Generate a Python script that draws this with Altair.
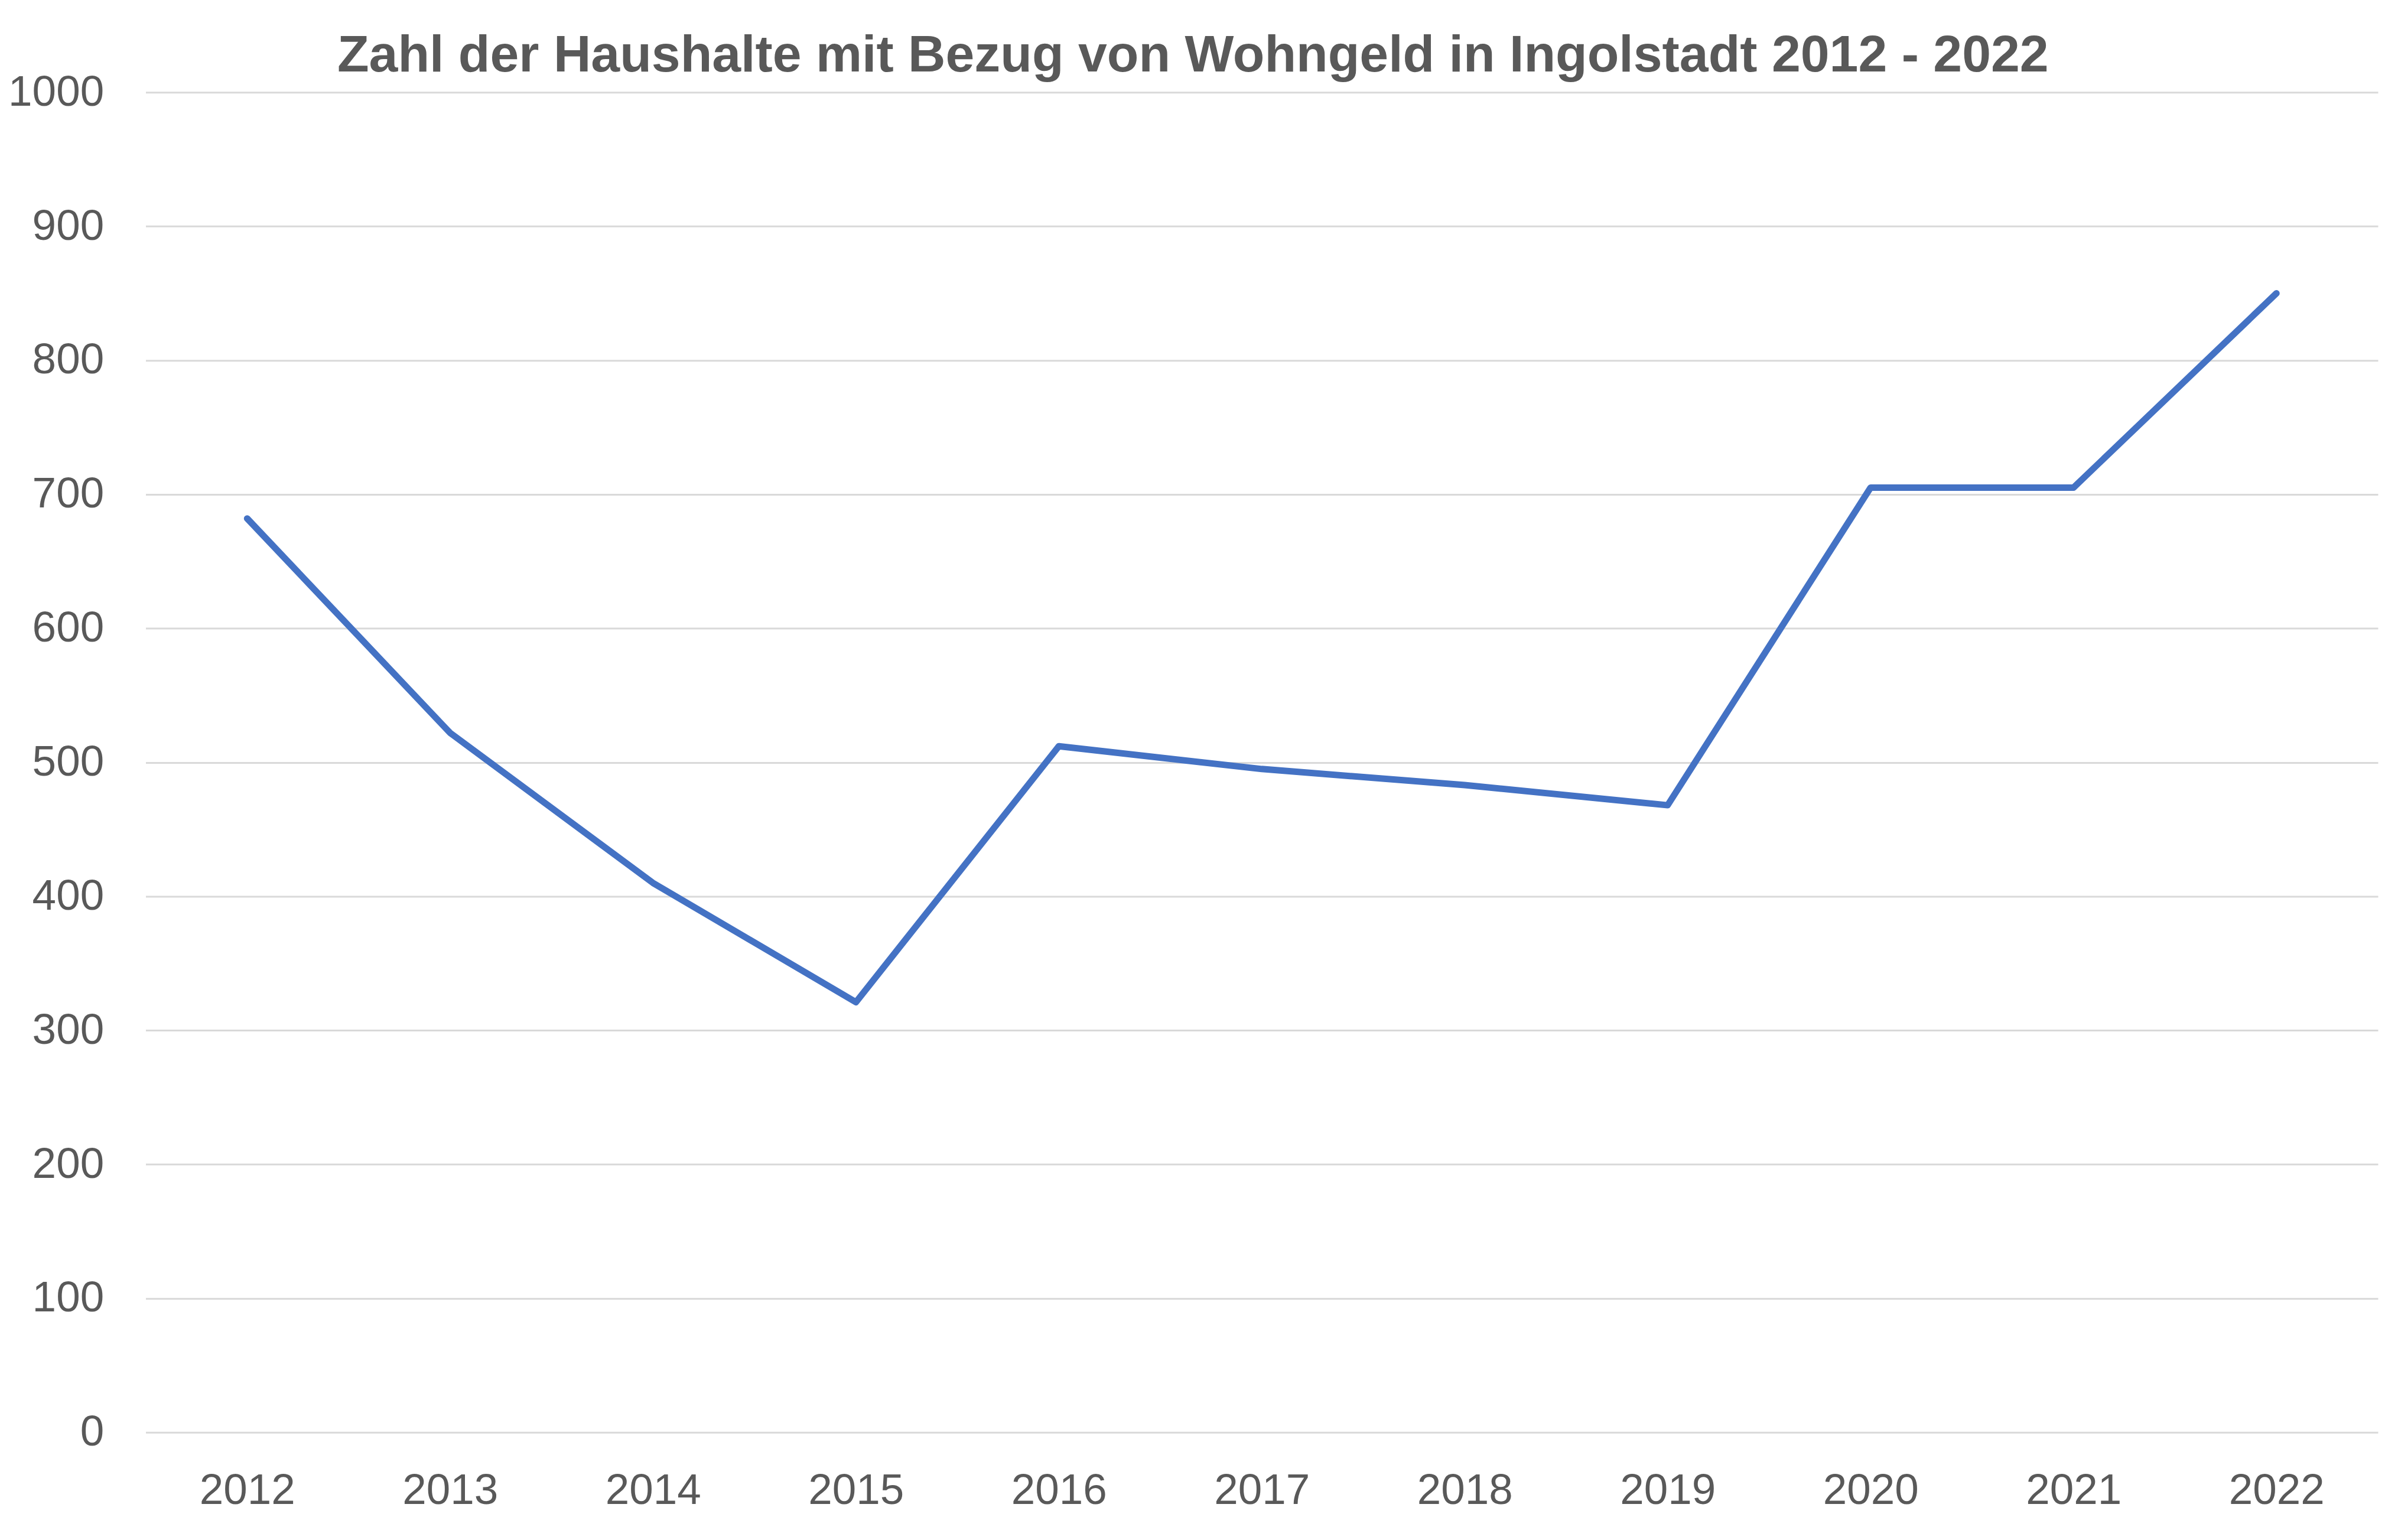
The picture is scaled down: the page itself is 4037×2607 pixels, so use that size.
import altair as alt
import pandas as pd

years = ["2012", "2013", "2014", "2015", "2016", "2017", "2018", "2019", "2020", "2021", "2022"]
haushalte = [682, 522, 410, 321, 512, 495, 483, 468, 705, 705, 850]
y_ticks = [0, 100, 200, 300, 400, 500, 600, 700, 800, 900, 1000]
title_text = "Zahl der Haushalte mit Bezug von Wohngeld in Ingolstadt 2012 - 2022"

df = pd.DataFrame({"Jahr": years, "Haushalte": haushalte})

FONT = "Liberation Sans"
GREY = "#595959"

chart = alt.Chart(df).mark_line(
    color="#4472C4", strokeWidth=11, strokeCap="round", strokeJoin="round"
).encode(
    x=alt.X("Jahr:N", sort=years, title=None,
            scale=alt.Scale(type="point", padding=0.5),
            axis=alt.Axis(labelAngle=0, labelFont=FONT, labelFontSize=73, labelColor=GREY,
                          ticks=False, domain=False, grid=False, labelPadding=63)),
    y=alt.Y("Haushalte:Q", title=None,
            scale=alt.Scale(domain=[0, 1000], nice=False),
            axis=alt.Axis(values=y_ticks, format="d", labelLimit=0, labelFont=FONT,
                          labelFontSize=73, labelColor=GREY,
                          ticks=False, domain=False, grid=True, gridColor="#d9d9d9",
                          gridWidth=3, labelPadding=71)),
).properties(
    width=3786,
    height=2273,
    title=alt.TitleParams(title_text, font=FONT, fontSize=88, fontWeight="bold",
                          color=GREY, anchor="middle", frame="bounds", offset=30, dy=49),
    autosize=alt.AutoSizeParams(type="none"),
    padding={"left": 239, "top": 146, "right": 4, "bottom": 150},
    background="white",
).configure_view(stroke=None, strokeWidth=0)

chart.save("out.html", embed_options={"renderer": "svg", "actions": False})
